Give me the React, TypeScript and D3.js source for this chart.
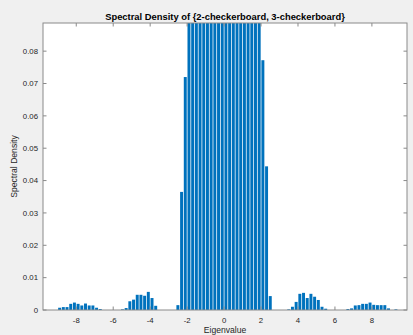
import React from "react";
import * as d3 from "d3";

// ---- data ----
const binStart = -9.2; // left edge of first bin
const binWidth = 0.2;
// spectral density per bin, bins from -9.2 to 9.4 (width 0.2)
const density: number[] = [
  0, 0.0007, 0.0009, 0.0009, 0.0019, 0.0023, 0.0019, 0.0014, 0.002, 0.0014, 0.0014, 0.0007, 0.0003, // -9.2 .. -6.8
  0, 0, 0, 0, 0, // -6.6 .. -5.8
  0.0002, 0.0006, 0.0027, 0.0032, 0.0047, 0.0047, 0.0044, 0.0056, 0.0037, 0.0013, // -5.6 .. -3.8
  0, 0, 0, 0, 0, // -3.6 .. -2.8
  0.0015, 0.0365, 0.072, // -2.6 .. -2.2
  0.12, 0.13, 0.14, 0.15, 0.16, 0.17, 0.18, 0.19, 0.2, 0.21, // -2.0 .. -0.2 (clipped)
  0.21, 0.2, 0.19, 0.18, 0.17, 0.16, 0.15, 0.14, 0.13, 0.12, // 0.0 .. 1.8 (clipped)
  0.0772, 0.0444, 0.0043, // 2.0 .. 2.4
  0, 0, 0, 0, // 2.6 .. 3.2
  0.0002, 0.001, 0.0025, 0.005, 0.0053, 0.0037, 0.005, 0.0041, 0.0031, 0.001, 0.0004, // 3.4 .. 5.4
  0, 0, 0, 0, 0, // 5.6 .. 6.4
  0.0003, 0.0005, 0.0014, 0.0015, 0.0019, 0.0019, 0.0023, 0.0016, 0.0015, 0.0015, 0.0015, 0.0005, // 6.6 .. 8.8
  0, 0.0002, // 9.0 .. 9.2
];
const xTicks = [-8, -6, -4, -2, 0, 2, 4, 6, 8];
const yTicks = [0, 0.01, 0.02, 0.03, 0.04, 0.05, 0.06, 0.07, 0.08];
const xDomain: [number, number] = [-9.8, 9.9];
const yDomain: [number, number] = [0, 0.0887];
const title = "Spectral Density of {2-checkerboard, 3-checkerboard}";
const xLabel = "Eigenvalue";
const yLabel = "Spectral Density";

const W = 413;
const H = 335;
const L = 43, R = 407, T = 23, B = 310;
const font = "'Liberation Sans', Arial, Helvetica, sans-serif";
const axisColor = "#8a8a8a";
const textColor = "#262626";

export default function App() {
  const x = d3.scaleLinear().domain(xDomain).range([L, R]);
  const y = d3.scaleLinear().domain(yDomain).range([B, T]);
  const tickLen = 3.5;
  const barFrac = 0.8;

  const bars = density.map((v, i) => {
    const e0 = binStart + i * binWidth;
    const c = e0 + binWidth / 2;
    const x0 = x(c - (binWidth * barFrac) / 2);
    const x1 = x(c + (binWidth * barFrac) / 2);
    return { v, x0, x1 };
  }).filter((b) => b.v > 0);

  return (
    <div style={{ position: "fixed", left: 0, top: 0 }}>
      <svg width={W} height={H} style={{ display: "block" }}>
        <defs>
          <clipPath id="plotClip">
            <rect x={L} y={T} width={R - L} height={B - T} />
          </clipPath>
        </defs>
        <rect x={0} y={0} width={W} height={H} fill="#f0f0f0" />
        <rect x={L} y={T} width={R - L} height={B - T} fill="#ffffff" />
        <g clipPath="url(#plotClip)">
          {bars.map((b, i) => (
            <rect
              key={i}
              x={b.x0}
              width={b.x1 - b.x0}
              y={y(b.v)}
              height={B - y(b.v)}
              fill="#0072BD"
            />
          ))}
        </g>
        {/* box */}
        <rect x={L} y={T} width={R - L} height={B - T} fill="none" stroke={axisColor} strokeWidth={1} />
        {/* x ticks */}
        {xTicks.map((t) => (
          <g key={"x" + t}>
            <line x1={x(t)} x2={x(t)} y1={B} y2={B - tickLen} stroke={axisColor} />
            <line x1={x(t)} x2={x(t)} y1={T} y2={T + tickLen} stroke={axisColor} />
            <text x={x(t)} y={B + 13} textAnchor="middle" fontSize={7.8} fontFamily={font} fill={textColor}>
              {t}
            </text>
          </g>
        ))}
        {/* y ticks */}
        {yTicks.map((t) => (
          <g key={"y" + t}>
            <line x1={L} x2={L + tickLen} y1={y(t)} y2={y(t)} stroke={axisColor} />
            <line x1={R} x2={R - tickLen} y1={y(t)} y2={y(t)} stroke={axisColor} />
            <text x={L - 5} y={y(t) + 2.8} textAnchor="end" fontSize={7.8} fontFamily={font} fill={textColor}>
              {t === 0 ? "0" : d3.format(".2f")(t)}
            </text>
          </g>
        ))}
        <text x={(L + R) / 2} y={19.5} textAnchor="middle" fontSize={9.4} fontWeight="bold" fontFamily={font} fill="#000">
          {title}
        </text>
        <text x={(L + R) / 2} y={333} textAnchor="middle" fontSize={8.6} fontFamily={font} fill={textColor}>
          {xLabel}
        </text>
        <text
          transform={`translate(17, ${(T + B) / 2}) rotate(-90)`}
          textAnchor="middle"
          fontSize={8.6}
          fontFamily={font}
          fill={textColor}
        >
          {yLabel}
        </text>
      </svg>
    </div>
  );
}
